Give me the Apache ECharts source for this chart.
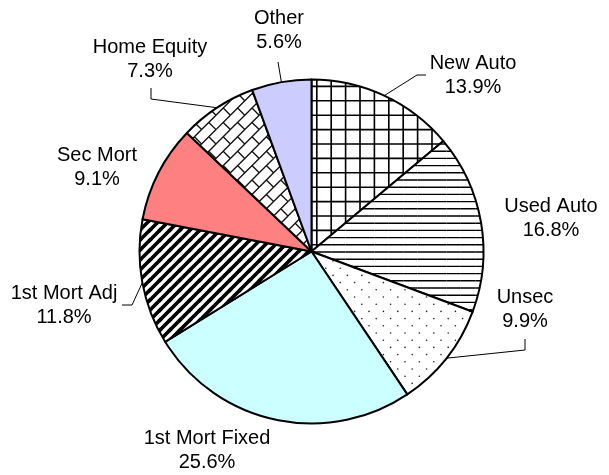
<!DOCTYPE html>
<html>
<head>
<meta charset="utf-8">
<script src="https://cdn.jsdelivr.net/npm/echarts@6/dist/echarts.min.js"></script>
<style>html,body{margin:0;padding:0;background:#fff;}#c{width:609px;height:475px;}</style>
</head>
<body>
<div id="c"></div>
<script>
// ---- data ----
const categories = ['New Auto', 'Used Auto', 'Unsec', '1st Mort Fixed', '1st Mort Adj', 'Sec Mort', 'Home Equity', 'Other'];
const shares = [13.9, 16.8, 9.9, 25.6, 11.8, 9.1, 7.3, 5.6];

// ---- styling / layout ----
const fills = ['grid', 'hlines', 'dots', '#ccffff', 'wdiag', '#ff8080', 'brick', '#ccccff'];
const labelCenter = [[473, 75], [551, 218], [525, 309], [207, 450], [64, 305], [97, 167], [150, 59], [279, 30]];
const labelLineTail = [
  [[417, 75], [426, 75]],
  null,
  [[525, 350], [525, 339]],
  null,
  [[132, 305], [122, 305]],
  null,
  [[151, 99], [151, 88]],
  [[278, 62]]
];

function makePattern(kind) {
  const S = kind === 'wdiag' ? 1.25 : 1.8, N = 5, size = Math.round(8 * S * N);
  const cv = document.createElement('canvas');
  cv.width = size; cv.height = size;
  const ctx = cv.getContext('2d');
  ctx.fillStyle = '#fff';
  ctx.fillRect(0, 0, size, size);
  ctx.scale(S, S);
  ctx.strokeStyle = '#000';
  ctx.fillStyle = '#222';
  for (let i = -1; i <= N; i++) {
    for (let j = -1; j <= N; j++) {
      const ox = i * 8, oy = j * 8;
      ctx.beginPath();
      if (kind === 'grid') {
        ctx.lineWidth = 0.9;
        ctx.moveTo(ox, oy); ctx.lineTo(ox + 8, oy);
        ctx.moveTo(ox, oy); ctx.lineTo(ox, oy + 8);
        ctx.stroke();
      } else if (kind === 'hlines') {
        ctx.lineWidth = 0.8;
        ctx.moveTo(ox, oy); ctx.lineTo(ox + 8, oy);
        ctx.moveTo(ox, oy + 4); ctx.lineTo(ox + 8, oy + 4);
        ctx.stroke();
      } else if (kind === 'dots') {
        ctx.arc(ox + 1, oy + 1, 0.45, 0, Math.PI * 2);
        ctx.moveTo(ox + 5.45, oy + 5);
        ctx.arc(ox + 5, oy + 5, 0.45, 0, Math.PI * 2);
        ctx.fill();
      } else if (kind === 'wdiag') {
        ctx.lineWidth = 2.9;
        ctx.moveTo(ox - 1, oy + 9); ctx.lineTo(ox + 9, oy - 1);
        ctx.stroke();
      } else if (kind === 'brick') {
        ctx.lineWidth = 0.75;
        ctx.strokeStyle = '#111';
        ctx.moveTo(ox, oy + 8); ctx.lineTo(ox + 8, oy);
        ctx.moveTo(ox + 4, oy + 4); ctx.lineTo(ox + 8, oy + 8);
        ctx.stroke();
      }
    }
  }
  return { image: cv, repeat: 'repeat' };
}

const pieData = categories.map((name, i) => {
  const f = fills[i];
  const color = f.charAt(0) === '#' ? f : makePattern(f);
  const item = { name: name, value: shares[i], itemStyle: { color: color } };
  if (!labelLineTail[i]) item.labelLine = { show: false };
  return item;
});

const chart = echarts.init(document.getElementById('c'), null, { renderer: 'canvas' });
chart.setOption({
  backgroundColor: '#fff',
  animation: false,
  series: [{
    type: 'pie',
    center: [311.5, 251.5],
    radius: [0, 172],
    startAngle: 90,
    clockwise: true,
    avoidLabelOverlap: false,
    itemStyle: { borderColor: '#000', borderWidth: 2 },
    emphasis: { disabled: true },
    label: {
      show: true,
      position: 'outside',
      formatter: p => p.name + '\n' + p.value.toFixed(1) + '%',
      fontFamily: 'Liberation Sans, Arial, sans-serif',
      fontSize: 20,
      lineHeight: 24,
      color: '#000',
      align: 'center'
    },
    labelLine: {
      show: true,
      length: 10,
      length2: 10,
      lineStyle: { color: '#000', width: 1 }
    },
    labelLayout: function (p) {
      const i = p.dataIndex;
      const c = labelCenter[i];
      const res = { x: c[0], y: c[1], align: 'center', verticalAlign: 'middle' };
      const tail = labelLineTail[i];
      if (tail && p.labelLinePoints) {
        res.labelLinePoints = [p.labelLinePoints[0]].concat(tail);
      }
      return res;
    },
    data: pieData
  }]
});
</script>
</body>
</html>
